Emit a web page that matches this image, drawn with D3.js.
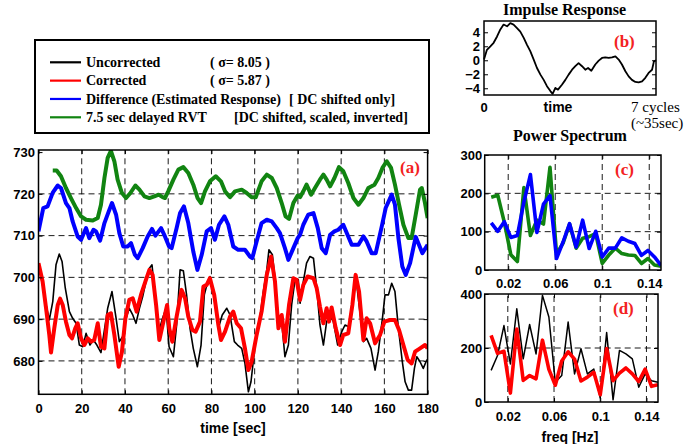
<!DOCTYPE html>
<html>
<head>
<meta charset="utf-8">
<script src="https://cdn.jsdelivr.net/npm/d3@7"></script>
<style>
  body { margin: 0; background: #fff; }
  svg text { font-family: "Liberation Sans", Arial, sans-serif; font-weight: bold; fill: #000; }
  svg text.serif { font-family: "Liberation Serif", "Times New Roman", serif; }
  .tick line { stroke: #000; }
  .domain { display: none; }
</style>
</head>
<body>
<svg width="694" height="444"></svg>
<script>
// ---- data ----
const timeTicks = [0, 20, 40, 60, 80, 100, 120, 140, 160, 180];
const valueTicks = [680, 690, 700, 710, 720, 730];

// [time sec, signal]
const uncorrected = [[0,703.4],[1.9,698.2],[3.5,693.4],[5,689.8],[6.6,694.2],[8.1,703],[9.6,705.6],[10.9,703.8],[12.4,697.4],[14.3,691.8],[15.8,690.2],[17.4,689],[18.9,683.8],[20.5,683.4],[22,686.6],[23.8,683.8],[25.4,685],[27,683.8],[28.9,682],[30.5,687.4],[32,692.6],[34,696.6],[35.9,690.2],[37.4,684.6],[38.9,685.8],[40.5,690.2],[42,692.6],[43.6,691],[45.1,689],[46.7,692.6],[48.2,695.4],[49.7,699],[51.3,702.2],[52.5,703],[54.1,695],[55.6,687],[57.4,690.2],[59,692.6],[60.4,683.4],[62.4,681],[63.9,688.6],[65.5,701.8],[67,701.6],[68.5,695.8],[70.1,687.8],[71.6,683],[73.5,678.6],[75.2,683.8],[76.7,695.8],[78.3,699],[79.3,700.2],[81.3,695.8],[83.2,687.8],[85,691],[87.1,692.6],[88.6,691],[90.6,684.6],[92.1,683.8],[94,683],[95.5,679.4],[97.1,672.6],[98.3,675],[100.2,683.8],[102.2,689.4],[104,696.6],[105.6,701.8],[106.6,706.6],[108.2,705.4],[109.4,699.8],[111,689.4],[112.5,689.4],[114,681],[115.6,683.8],[117.1,693.4],[118.7,699.6],[120.2,699.4],[121,693.8],[122.5,699],[124,703.4],[125.6,705],[127.2,704.6],[128.7,697.4],[130.2,688.6],[131.8,683.8],[133.3,689.4],[134.9,691],[136.4,689.4],[138.4,683.8],[140.3,687],[141.8,688.6],[143.6,688.2],[145.2,694.2],[146.7,700.6],[148.3,693.4],[150.3,684.6],[151.8,685.4],[153.8,683],[155.7,677.8],[157.2,682.2],[159.1,690.2],[160.3,695.8],[161.9,695.8],[163.4,698.6],[164.9,696.6],[166.5,687.8],[168.3,679.8],[169.6,675],[171.1,673],[172.6,673],[173.9,678.2],[175,681],[176.5,679.8],[178,678.2],[179.6,680.2],[180,680.2]];

const corrected = [[0,703.4],[1.9,699],[3.5,692.6],[5,686.2],[5.8,682],[7.3,687.8],[8.9,693.4],[10,694.9],[11.2,693.4],[12.7,689.4],[14.3,686.2],[15.5,685.4],[17,687.8],[18.1,689],[19.7,685.4],[21.2,683.8],[22.8,685.4],[24.3,684.6],[25.8,685],[27.4,689],[28.9,683.4],[30.5,683],[32,691],[33.5,691.4],[35.1,686.2],[37.1,678.6],[38.6,682.2],[40.2,690.2],[42,694.6],[43.6,695],[45.4,691.8],[47.4,695.8],[49.7,699.4],[51.3,701.8],[52.8,700.6],[54.4,693.4],[55.9,685],[57.8,689.4],[59.5,693.4],[60.5,687.8],[61.9,684.6],[63.9,690.6],[66.2,697],[67.8,695],[69.3,690.6],[71.2,687.4],[72.7,687],[74.7,689.4],[76.3,697.8],[77.8,698.2],[79.3,699.8],[81.3,695.8],[83.2,688.6],[84.4,685],[86.3,687],[88.6,690.6],[90.1,691.8],[91.7,689],[93.7,687.8],[95.5,683],[97.1,677.8],[98.6,679.8],[100.9,686.2],[103.2,691.8],[105.6,700.6],[107.6,705],[109.4,699],[111,687.8],[112.5,691],[114,684.6],[115.9,693.4],[117.9,699.8],[119.4,699.4],[121,694.6],[122.5,698.2],[124.5,700.2],[127.2,699.8],[128.7,697.4],[130.2,693],[131.8,689],[133.3,692.6],[134.4,689.4],[135.6,692.8],[137.5,687.8],[139.5,683.8],[141,686.2],[143.3,686.6],[145.2,693.4],[146.7,700.6],[148.3,696.6],[150.3,685],[151.8,690.2],[153.4,689],[155.7,684.2],[158,686.2],[160,689.4],[162.6,689.8],[164.9,689.8],[166.8,687.4],[168.8,683.8],[170.8,680.2],[172.6,679.4],[174.2,682.2],[176.5,683],[178.8,683.8],[180,683]];

const difference = [[0,711],[2.2,716.6],[4.2,717],[6.6,720.3],[8.9,722],[10.4,721.4],[12.7,717.8],[14.3,716.6],[15.8,713.4],[18.1,709.8],[19.7,709],[22,711.8],[23.5,709.4],[25.4,711.4],[26.6,711],[28.5,708.8],[30.5,713],[32.5,715.8],[34,717.8],[35.9,715],[37.4,710.6],[39.2,707.4],[41.3,707.4],[42.8,708.2],[44.6,705.4],[45.9,704.6],[48.2,707],[50.5,709.8],[52.5,711.6],[54.1,710],[56.7,711.8],[58.5,709.8],[60.4,707.4],[61.6,707],[63.9,711.8],[65.5,715.4],[67.3,717],[69.3,713],[71.6,706.2],[73.5,701.8],[75.5,705.4],[77.8,711],[79.8,711.8],[81.6,709],[83.5,712.6],[86,714.6],[87.8,712.6],[90.1,707.4],[92.4,706.6],[95.5,706.6],[97.8,705],[98.9,704.6],[100.9,708.6],[103.2,713],[105.6,713.8],[107.9,713.4],[110.2,711.8],[111.7,710.6],[114,707],[115.6,704.2],[117.9,707],[119.9,709.4],[121,710.2],[122.5,712.6],[124.8,715],[127.2,715.4],[129.2,711.8],[131,707],[132.9,705.8],[134.9,710.2],[136.9,711],[138.7,711.4],[141,712.6],[142.6,710.6],[144.9,707.8],[148,707.8],[150.3,709.8],[151.8,708.6],[154.1,705.8],[156,705.8],[158.8,712.2],[160.6,716.6],[163.4,719.8],[164.9,717.4],[166.5,709.4],[168.3,702.6],[169.9,700.6],[171.9,703.4],[174.5,709.7],[177.6,705.8],[180,707.8]];

const delayedRVT = [[6.6,725.6],[8.4,725.6],[10.4,724.2],[12.7,721.4],[15,719],[17.4,716.6],[19.7,714.6],[22,713.8],[25.1,713.6],[27.4,714.2],[28.9,717.4],[30.5,723.8],[32,728.6],[33.5,730.3],[35.1,727.8],[36.6,723.4],[38.6,720.2],[40.5,719],[42.5,720.2],[44.8,722],[46.7,721],[49,719.4],[51.3,719],[53.6,719.4],[55.6,719.8],[57.4,719.2],[58.5,719],[60,720.6],[62.4,723.4],[64.7,725.8],[67,726.4],[69.3,725],[71.6,722.2],[73.6,719],[75.2,717.8],[77,720.6],[79.3,723],[82,724.2],[84.4,723],[86.3,720.6],[88.6,719.2],[90.9,720.6],[94,721],[96.3,720.2],[98.6,719.2],[100.5,719.2],[103.2,723],[105.6,724.6],[107.9,723.8],[110.2,721.4],[112.5,717.8],[114.3,714.6],[115.9,714],[117.9,717.8],[119.9,719.6],[121,719.2],[122.5,720.6],[124,722.2],[126.1,719.8],[127.9,721.4],[130.2,723.4],[131.8,724.6],[133.3,723.4],[134.9,721.8],[136.9,723.8],[139,726.4],[141,725.4],[143.3,722.6],[145.7,719],[148,717.4],[150.3,719],[152.6,721.4],[155.4,722.2],[157.2,723.8],[159.1,726.2],[161.1,727.8],[163.1,726.2],[164.9,722.2],[166.8,717.4],[168.8,712.6],[171.1,709.4],[172.6,709.4],[174.5,715],[176.5,721],[177.3,721.4],[178.8,717.8],[180,714.2]];

// impulse response, [fraction of 7 cycles, amplitude]
const impulseTicks = [-4, -2, 0, 2, 4];
const impulse = [[0,0.1],[0.017,1.5],[0.037,2.0],[0.056,2.5],[0.076,3.4],[0.095,4.4],[0.114,5.1],[0.134,4.85],[0.153,5.3],[0.172,5.1],[0.192,4.6],[0.211,4.1],[0.231,3.2],[0.25,2.2],[0.269,1.3],[0.289,0.1],[0.308,-1.1],[0.328,-2.05],[0.347,-2.8],[0.366,-3.7],[0.386,-4.4],[0.399,-4.8],[0.415,-3.95],[0.43,-4.2],[0.453,-3.5],[0.473,-2.8],[0.492,-2.05],[0.512,-1.35],[0.531,-0.85],[0.55,-0.4],[0.57,-0.85],[0.589,-1.35],[0.605,-1.1],[0.624,-1.5],[0.647,-0.6],[0.667,-0.05],[0.686,0.33],[0.705,0.42],[0.725,0.33],[0.744,0.42],[0.764,0.57],[0.783,0.1],[0.802,-0.6],[0.822,-1.57],[0.841,-2.3],[0.86,-2.8],[0.88,-3.1],[0.899,-3.15],[0.919,-3.0],[0.938,-2.5],[0.957,-1.8],[0.977,-1.35],[0.988,-0.15],[1,0]];

// power spectra at k/180 Hz, k = 1..27
const freqs = d3.range(1, 28).map(k => k / 180);
const freqTicks = [0.02, 0.06, 0.1, 0.14];
const powerTicksC = [0, 100, 200, 300];
const powerTicksD = [0, 200, 400];
const rvtPower = [190,195,125,40,22,215,90,130,120,268,42,70,120,57,83,87,95,17,39,57,43,39,38,17,30,13,10];
const diffPower = [123,101,126,85,90,177,249,98,172,194,30,73,121,60,130,56,101,34,57,57,84,75,69,38,51,34,12];
const uncorrPower = [117,172,283,141,345,160,287,178,395,315,73,98,296,104,197,104,122,15,257,8,191,178,160,55,104,79,73];
const corrPower = [247,180,188,33,270,80,98,86,229,121,62,152,186,159,78,92,110,27,198,79,107,126,104,76,122,58,64];

const legendRows = [
  { name: "Uncorrected", color: "#000", note: "( σ= 8.05 )", noteX: 210 },
  { name: "Corrected", color: "#f00", note: "( σ= 5.87 )", noteX: 210 },
  { name: "Difference (Estimated Response)", color: "#00f", note: "[ DC shifted only]", noteX: 289 },
  { name: "7.5 sec delayed RVT", color: "#118411", note: "[DC shifted, scaled, inverted]", noteX: 234 }
];

// ---- drawing ----
const svg = d3.select("svg");
const RED_LABEL = "#f32222";

const drawFrame = (xs, ys) => {
  svg.append("rect")
    .attr("x", xs.range()[0]).attr("y", ys.range()[1])
    .attr("width", xs.range()[1] - xs.range()[0])
    .attr("height", ys.range()[0] - ys.range()[1])
    .attr("fill", "none").attr("stroke", "#000").attr("stroke-width", 1.5);
};

const drawGrid = (xs, ys, xt, yt) => {
  const g = svg.append("g").attr("stroke", "#000").attr("stroke-width", 0.9)
    .attr("stroke-dasharray", "6,4");
  g.selectAll(".vx").data(xt).enter().append("line")
    .attr("x1", d => xs(d)).attr("x2", d => xs(d))
    .attr("y1", ys.range()[0]).attr("y2", ys.range()[1]);
  g.selectAll(".hy").data(yt).enter().append("line")
    .attr("x1", xs.range()[0]).attr("x2", xs.range()[1])
    .attr("y1", d => ys(d)).attr("y2", d => ys(d));
};

const drawAxes = (xs, ys, xt, yt, opts) => {
  const fs = opts.fontSize || 13;
  if (xt) {
    const xa = svg.append("g").attr("transform", `translate(0,${ys.range()[0]})`)
      .call(d3.axisBottom(xs).tickValues(xt).tickSize(-4).tickPadding(opts.xPad)
        .tickFormat(opts.xFormat || d3.format("")));
    xa.selectAll("text").style("font-size", fs + "px");
    svg.append("g").attr("transform", `translate(0,${ys.range()[1]})`)
      .call(d3.axisTop(xs).tickValues(xt).tickSize(-4).tickFormat(""));
  }
  const ya = svg.append("g").attr("transform", `translate(${xs.range()[0]},0)`)
    .call(d3.axisLeft(ys).tickValues(yt).tickSize(-4).tickPadding(opts.yPad));
  ya.selectAll("text").style("font-size", fs + "px");
  svg.append("g").attr("transform", `translate(${xs.range()[1]},0)`)
    .call(d3.axisRight(ys).tickValues(yt).tickSize(-4).tickFormat(""));
};

const drawLine = (data, xs, ys, color, width, clipId) => {
  const line = d3.line().x(d => xs(d[0])).y(d => ys(d[1]));
  svg.append("path").datum(data)
    .attr("d", line)
    .attr("fill", "none").attr("stroke", color)
    .attr("stroke-width", width).attr("stroke-linejoin", "round")
    .attr("clip-path", clipId ? `url(#${clipId})` : null);
};

const addClip = (id, xs, ys) => {
  svg.append("clipPath").attr("id", id).append("rect")
    .attr("x", xs.range()[0]).attr("y", ys.range()[1])
    .attr("width", xs.range()[1] - xs.range()[0])
    .attr("height", ys.range()[0] - ys.range()[1]);
};

// (a) time courses
const x = d3.scaleLinear().domain([0, 180]).range([38.5, 427.6]);
const y = d3.scaleLinear().domain([672, 730.5]).range([394.3, 150]);
addClip("clipA", x, y);
drawGrid(x, y, timeTicks.slice(1, -1), valueTicks.slice(0, -1));
drawLine(delayedRVT, x, y, "#118411", 4, "clipA");
drawLine(difference, x, y, "#0000ff", 4, "clipA");
drawLine(uncorrected, x, y, "#000", 1.6, "clipA");
drawLine(corrected, x, y, "#ff0000", 4, "clipA");
drawFrame(x, y);
drawAxes(x, y, timeTicks, valueTicks, { xPad: 9, yPad: 3.5 });
svg.append("text").attr("x", 233).attr("y", 433).attr("text-anchor", "middle")
  .style("font-size", "14px").text("time [sec]");
svg.append("text").attr("class", "serif").attr("x", 400).attr("y", 173)
  .style("font-size", "17px").style("fill", RED_LABEL).text("(a)");

// legend
svg.append("rect").attr("x", 35).attr("y", 40).attr("width", 394).attr("height", 93)
  .attr("fill", "#fff").attr("stroke", "#000").attr("stroke-width", 2);
const legendY = d3.scalePoint().domain(legendRows.map(d => d.name)).range([62.3, 117.3]);
const lg = svg.append("g").selectAll("g").data(legendRows).enter().append("g")
  .attr("transform", d => `translate(0,${legendY(d.name)})`);
lg.append("line").attr("x1", 50).attr("x2", 81).attr("stroke", d => d.color).attr("stroke-width", 2.2);
lg.append("text").attr("class", "serif").attr("x", 86).attr("y", 4.6)
  .style("font-size", "14px").text(d => d.name);
lg.append("text").attr("class", "serif").attr("x", d => d.noteX).attr("y", 4.6)
  .style("font-size", "14px").text(d => d.note);

// (b) impulse response
const xb = d3.scaleLinear().domain([0, 1]).range([484, 656]);
const yb = d3.scaleLinear().domain([-4.96, 5.61]).range([95, 21]);
drawLine(impulse, xb, yb, "#000", 1.8);
drawFrame(xb, yb);
drawAxes(xb, yb, null, impulseTicks, { yPad: 4 });
svg.append("text").attr("x", xb(0)).attr("y", 112).attr("text-anchor", "middle")
  .style("font-size", "13px").text("0");
svg.append("text").attr("x", 558).attr("y", 112).attr("text-anchor", "middle")
  .style("font-size", "14px").text("time");
svg.append("text").attr("class", "serif").attr("x", 631).attr("y", 112)
  .style("font-size", "15px").style("font-weight", "normal").text("7 cycles");
svg.append("text").attr("class", "serif").attr("x", 631).attr("y", 127.5)
  .style("font-size", "15px").style("font-weight", "normal").text("(~35sec)");
svg.append("text").attr("class", "serif").attr("x", 564.5).attr("y", 14.5).attr("text-anchor", "middle")
  .style("font-size", "16px").text("Impulse Response");
svg.append("text").attr("class", "serif").attr("x", 614).attr("y", 47)
  .style("font-size", "17px").style("fill", RED_LABEL).text("(b)");

// (c) power spectrum of blue / green
const xc = d3.scaleLinear().domain([0, 0.15]).range([484.7, 661]);
const yc = d3.scaleLinear().domain([0, 300]).range([270, 155]);
addClip("clipC", xc, yc);
drawGrid(xc, yc, freqTicks, [100, 200]);
drawLine(freqs.map((f, i) => [f, rvtPower[i]]), xc, yc, "#118411", 3.6, "clipC");
drawLine(freqs.map((f, i) => [f, diffPower[i]]), xc, yc, "#0000ff", 3.6, "clipC");
drawFrame(xc, yc);
drawAxes(xc, yc, freqTicks, powerTicksC, { xPad: 8.5, yPad: 2.5, xFormat: d => d3.format("")(+d.toFixed(2)) });
svg.append("text").attr("class", "serif").attr("x", 570).attr("y", 140.5).attr("text-anchor", "middle")
  .style("font-size", "16px").text("Power Spectrum");
svg.append("text").attr("class", "serif").attr("x", 615).attr("y", 175)
  .style("font-size", "17px").style("fill", RED_LABEL).text("(c)");

// (d) power spectrum of black / red
const xd = d3.scaleLinear().domain([0, 0.15]).range([484.7, 658]);
const yd = d3.scaleLinear().domain([0, 400]).range([402, 294]);
addClip("clipD", xd, yd);
drawGrid(xd, yd, freqTicks, [200]);
drawLine(freqs.map((f, i) => [f, uncorrPower[i]]), xd, yd, "#000", 1.5, "clipD");
drawLine(freqs.map((f, i) => [f, corrPower[i]]), xd, yd, "#ff0000", 3.6, "clipD");
drawFrame(xd, yd);
drawAxes(xd, yd, freqTicks, powerTicksD, { xPad: 9.5, yPad: 2.5, xFormat: d => d3.format("")(+d.toFixed(2)) });
svg.append("text").attr("x", 570).attr("y", 442).attr("text-anchor", "middle")
  .style("font-size", "14px").text("freq [Hz]");
svg.append("text").attr("class", "serif").attr("x", 613).attr("y", 314)
  .style("font-size", "17px").style("fill", RED_LABEL).text("(d)");
</script>
</body>
</html>
